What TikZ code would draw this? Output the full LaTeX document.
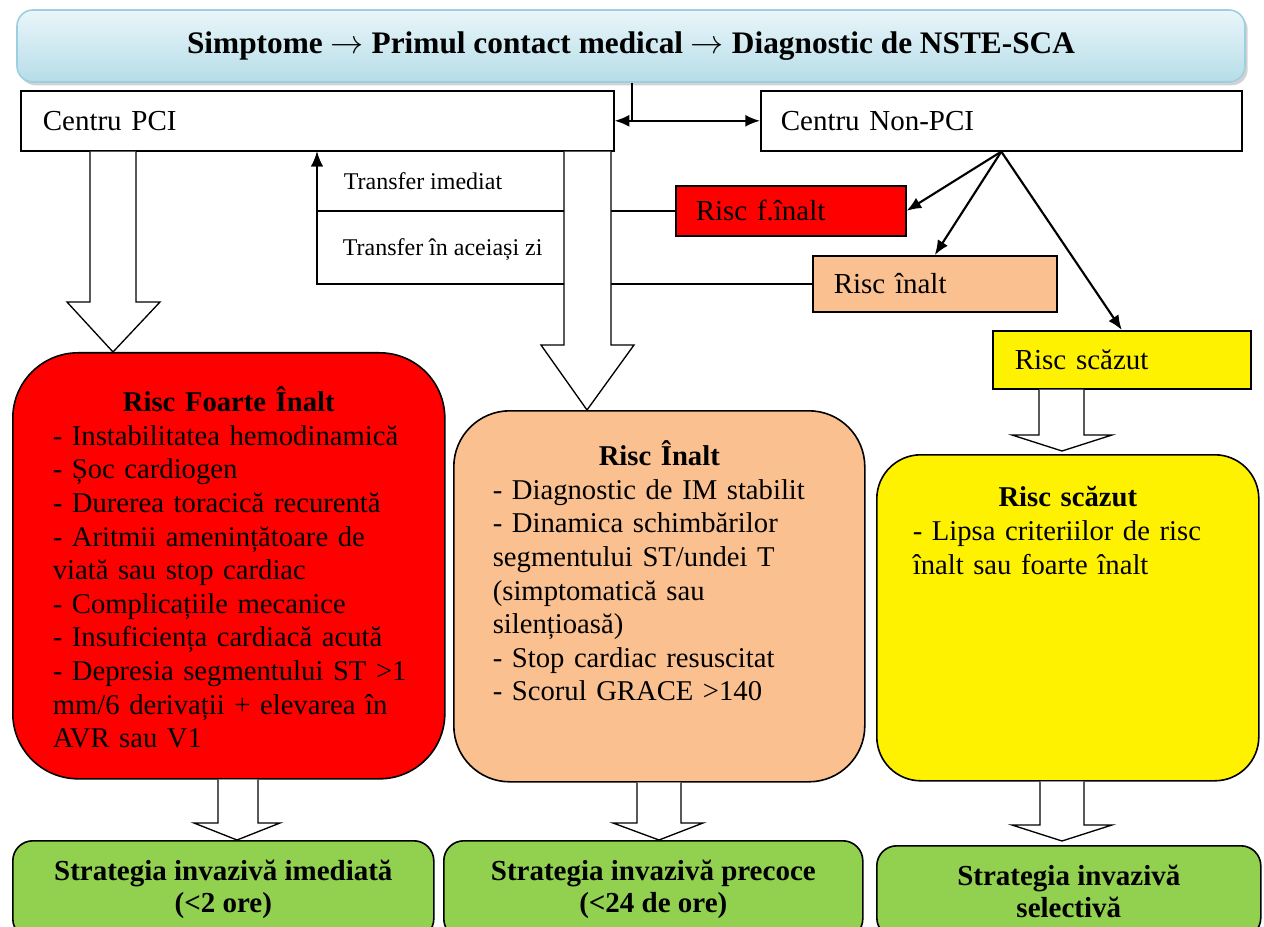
\documentclass[tikz,border=0pt]{standalone}
\usepackage{fontspec}
\setmainfont{Liberation Serif}
\usetikzlibrary{positioning,arrows.meta,shadows}
\definecolor{skytop}{HTML}{EAF6FA}
\definecolor{skybot}{HTML}{B6DDE8}
\definecolor{skyedge}{HTML}{9CCFE0}
\definecolor{peach}{HTML}{FAC090}
\definecolor{leaf}{HTML}{92D050}
\tikzset{every path/.style={line width=1.2pt},
  header/.style={draw=skyedge, top color=skytop, bottom color=skybot, rounded corners=12pt,
    minimum width=921pt, minimum height=54pt, font=\fontsize{23.5}{28}\selectfont\bfseries,
    drop shadow={shadow xshift=2pt, shadow yshift=-2.5pt, fill=black!35}},
  centre/.style={draw, anchor=north west, inner ysep=0pt, align=left, font=\fontsize{21.75}{25}\selectfont},
  riskcard/.style={draw, anchor=north west},
  cardtext/.style={anchor=north, inner sep=0pt, align=left, font=\fontsize{21.5}{25.2}\selectfont},
  strategy/.style={draw, fill=leaf, anchor=north west, rounded corners=15pt, align=center,
    font=\fontsize{21.75}{24}\selectfont\bfseries},
  hollow/.style={draw, fill=white, line width=1pt},
  link/.style={line width=1.6pt, -{Latex[length=11pt,width=9pt]}},
  twoway/.style={line width=1.6pt, {Latex[length=11pt,width=9pt]}-{Latex[length=11pt,width=9pt]}},
  note/.style={anchor=west, inner sep=0pt, font=\fontsize{18}{21}\selectfont}}

\begin{document}
\begin{tikzpicture}[x=0.75pt, y=-0.75pt]
  \useasboundingbox (0,0) rectangle (1264,927);
  % top of the chart
  \node[header] (title) at (631,46) {Simptome $\rightarrow$ Primul contact medical $\rightarrow$ Diagnostic de NSTE-SCA};
  \node[centre, minimum width=444.75pt, minimum height=45pt, inner xsep=16.5pt, text width=411.75pt] (pci) at (20,90) {Centru PCI};
  \node[centre, minimum width=360.75pt, minimum height=45pt, inner xsep=15pt, text width=330.75pt] (nonpci) at (760,90) {Centru Non-PCI};
  \node[centre, fill=red, minimum width=172.5pt, minimum height=37.5pt, inner xsep=15pt, text width=142.5pt] (vhighrisk) at (675,185) {Risc f.înalt};
  \node[centre, fill=peach, minimum width=183pt, minimum height=42pt, inner xsep=15.75pt, text width=151.5pt] (highrisk) at (812,255) {Risc înalt};
  \node[centre, fill=yellow, minimum width=193.5pt, minimum height=43.5pt, inner xsep=16.5pt, text width=160.5pt] (lowrisk) at (992,330) {Risc scăzut};
  \node[note] (imm) at (343,181) {Transfer imediat};
  \node[note] (same) at (342,250) {Transfer în aceiași zi};

  % risk cards
  \node[riskcard, fill=red, rounded corners=49pt, minimum width=324pt, minimum height=319.5pt] (vhigh) at (12,352) {};
  \node[riskcard, fill=peach, rounded corners=42pt, minimum width=308.25pt, minimum height=278.25pt] (high) at (453,410) {};
  \node[riskcard, fill=yellow, rounded corners=33pt, minimum width=286.5pt, minimum height=244.5pt] (low) at (876,454) {};
  \node[cardtext, text width=264pt, below=25.5pt of vhigh.north] (vhightext) {{\centering\bfseries Risc Foarte Înalt\par}
    - Instabilitatea hemodinamică\\
    - Șoc cardiogen\\
    - Durerea toracică recurentă\\
    - Aritmii amenințătoare de\\
    viată sau stop cardiac\\
    - Complicațiile mecanice\\
    - Insuficiența cardiacă acută\\
    \mbox{- Depresia segmentului ST >1}\\
    mm/6 derivații + elevarea în\\
    AVR sau V1};
  \node[cardtext, text width=249.75pt, below=22.5pt of high.north] (hightext) {{\centering\bfseries Risc Înalt\par}
    - Diagnostic de IM stabilit\\
    - Dinamica schimbărilor\\
    segmentului ST/undei T\\
    (simptomatică sau\\
    silențioasă)\\
    - Stop cardiac resuscitat\\
    - Scorul GRACE >140};
  \node[cardtext, text width=232.5pt, below=24pt of low.north] (lowtext) {{\centering\bfseries Risc scăzut\par}
    - Lipsa criteriilor de risc\\
    înalt sau foarte înalt};

  % strategies
  \node[strategy, minimum width=315.75pt, minimum height=73.5pt] (now) at (12,840) {Strategia invazivă imediată\\(<2 ore)};
  \node[strategy, minimum width=314.25pt, minimum height=73.5pt] (early) at (443,840) {Strategia invazivă precoce\\(<24 de ore)};
  \node[strategy, minimum width=288pt, minimum height=69pt] (select) at (876,845) {Strategia invazivă\\selectivă};

  % connectors
  \draw[line width=1.6pt] (title.south -| 632,0) -- (632,0 |- pci.east);
  \draw[twoway] (pci.east) -- (nonpci.west);
  \draw[link] (nonpci.south) -- (vhighrisk.east);
  \draw[link] (nonpci.south) -- (highrisk.north);
  \draw[link] (nonpci.south) -- (lowrisk.north);
  \draw[link] (vhighrisk.west) -| (pci.south -| 317,0);
  \draw[link] (highrisk.west) -| (pci.south -| 317,0);

  % hollow arrows
  \draw[hollow] (90,0 |- pci.south) -- (90,302) -- (67,302) -- (113,0 |- vhigh.north) -- (160,302) -- (136,302) -- (136,0 |- pci.south);
  \draw[hollow] (564,0 |- pci.south) -- (564,345) -- (541,345) -- (587,0 |- high.north) -- (634,345) -- (611,345) -- (611,0 |- pci.south);
  \draw[hollow] (1039,0 |- lowrisk.south) -- (1039,435) -- (1012,435) -- (1062,451) -- (1112,435) -- (1084,435) -- (1084,0 |- lowrisk.south);
  \draw[hollow] (218,0 |- vhigh.south) -- (218,823) -- (194,823) -- (237,0 |- now.north) -- (280,823) -- (258,823) -- (258,0 |- vhigh.south);
  \draw[hollow] (637,0 |- high.south) -- (637,823) -- (613,823) -- (659,0 |- early.north) -- (703,823) -- (681,823) -- (681,0 |- high.south);
  \draw[hollow] (1040,0 |- low.south) -- (1040,825) -- (1012,825) -- (1062,841) -- (1112,825) -- (1084,825) -- (1084,0 |- low.south);
\end{tikzpicture}
\end{document}
